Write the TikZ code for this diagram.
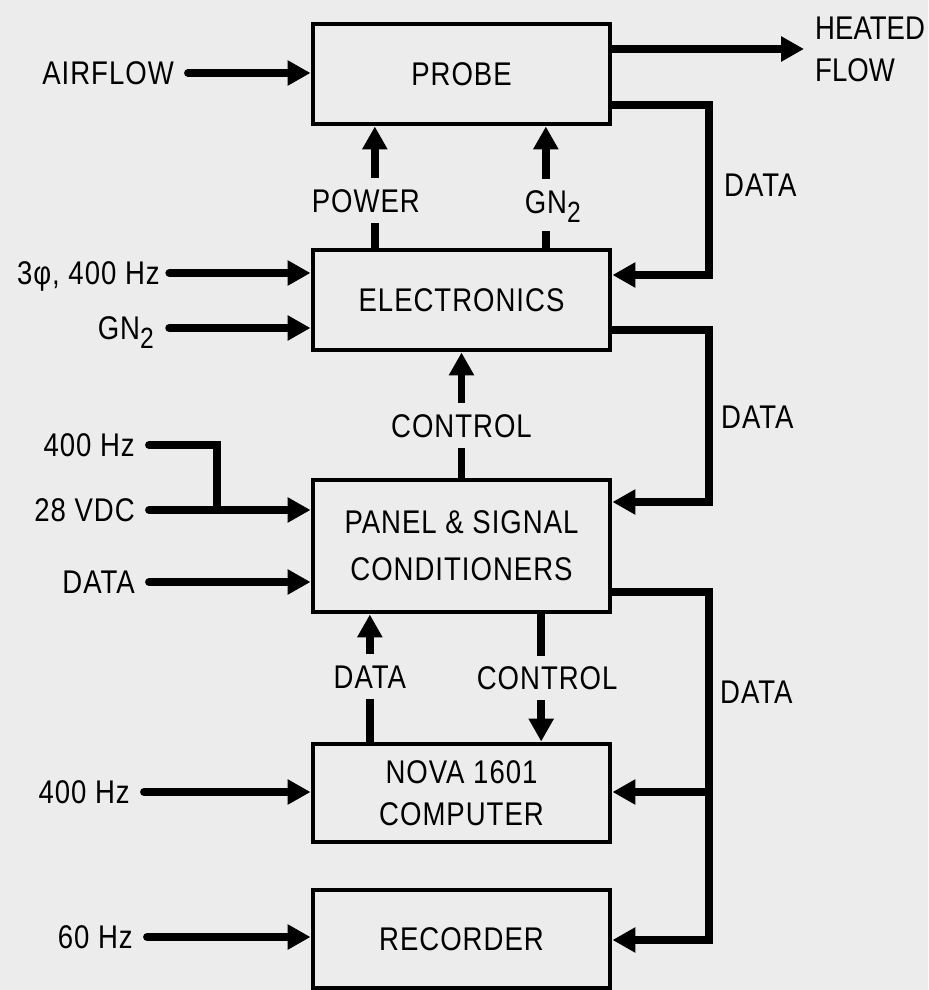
\documentclass[tikz,border=0pt]{standalone}
\usepackage{fontspec}
\setmainfont{Liberation Sans}[FakeStretch=0.84,LetterSpace=3]
\usetikzlibrary{arrows.meta,positioning,calc}
\definecolor{paper}{RGB}{236,236,236}
\newcommand{\subtwo}{\raisebox{-0.5ex}{\fontsize{25}{25}\selectfont 2}}

\begin{document}
\begin{tikzpicture}[x=0.03cm,y=-0.03cm,
  font=\fontsize{28}{36}\selectfont,
  box/.style={draw,line width=4.2pt,minimum width=8.91cm,inner sep=0pt,align=center},
  flow/.style={line width=6.8pt,line cap=round,-{Triangle[length=6.9mm,width=7.2mm]}},
  wire/.style={line width=6.8pt,line cap=round},
  lbl/.style={inner sep=0pt,text height=20pt,text depth=0pt},
  gap/.style={lbl,fill=paper,inner xsep=4pt,inner ysep=9pt}]
\fill[paper] (0,0) rectangle (928,990);
\useasboundingbox (0,0) rectangle (928,990);
% Blocks
\node[box,minimum height=3cm] (probe) at (461.5,74) {PROBE};
\node[box,minimum height=3cm] (elec) at (461.5,300) {ELECTRONICS};
\node[box,minimum height=3.96cm,font=\fontsize{28}{40}\selectfont] (panel) at (461.5,546) {PANEL \& SIGNAL\\CONDITIONERS};
\node[box,minimum height=2.94cm] (nova) at (461.5,793) {NOVA 1601\\COMPUTER};
\node[box,minimum height=2.94cm] (rec) at (461.5,939) {RECORDER};
% Inputs on the left
\node[lbl,anchor=east] (airflow) at (174,73) {AIRFLOW};
\node[lbl,anchor=east] (phase) at (160,273) {3φ, 400 Hz};
\node[lbl,anchor=east] (gnin) at (154,328) {GN\subtwo};
\node[lbl,anchor=east] (hzpanel) at (135,445) {400 Hz};
\node[lbl,anchor=east] (vdc) at (135,510) {28 VDC};
\node[lbl,anchor=east] (datain) at (135,582) {DATA};
\node[lbl,anchor=east] (hznova) at (130,792) {400 Hz};
\node[lbl,anchor=east] (hzrec) at (133,937) {60 Hz};
\draw[flow] ([xshift=12pt]airflow.east) -- (airflow.east -| probe.west);
\draw[flow] ([xshift=8pt]phase.east) -- (phase.east -| elec.west);
\draw[flow] ([xshift=13pt]gnin.east) -- (gnin.east -| elec.west);
\draw[flow] ([xshift=12pt]vdc.east) -- (vdc.east -| panel.west);
\draw[flow] ([xshift=12pt]datain.east) -- (datain.east -| panel.west);
\draw[flow] ([xshift=12pt]hznova.east) -- (hznova.east -| nova.west);
\draw[flow] ([xshift=12pt]hzrec.east) -- (hzrec.east -| rec.west);
\coordinate (join) at (217,510);
\draw[wire] ([xshift=12pt]hzpanel.east) -| (join);
% Heated flow out
\node[anchor=west,align=left,inner sep=0pt,font=\fontsize{28}{36}\selectfont\addfontfeature{LetterSpace=0}] (heated) at (815,49) {HEATED\\FLOW};
\draw[flow] (probe.east |- heated.west) -- ([xshift=-0.33cm]heated.west);
% Vertical links
\draw[flow] ([xshift=-2.6cm]elec.north) -- node[gap,pos=0.39,xshift=-0.27cm] (power) {POWER} ([xshift=-2.6cm]probe.south);
\draw[flow] ([xshift=2.53cm]elec.north) -- node[gap,pos=0.35,xshift=0.21cm,text depth=6pt] (gnup) {GN\subtwo} ([xshift=2.53cm]probe.south);
\draw[flow] (panel.north) -- node[gap,pos=0.415] (ctrlup) {CONTROL} (elec.south);
\draw[flow] ([xshift=-2.75cm]nova.north) -- node[gap,pos=0.51] (dataup) {DATA} ([xshift=-2.75cm]panel.south);
\draw[flow] ([xshift=2.39cm]panel.south) -- node[gap,pos=0.5,xshift=0.18cm] (ctrldown) {CONTROL} ([xshift=2.39cm]nova.north);
% Data loops on the right
\coordinate (da) at (709,105);
\coordinate (dae) at (709,275);
\draw[flow] (probe.east |- da) -- (da) -- (dae) -- (elec.east |- dae);
\node[lbl,anchor=west] (data1) at (724,185) {DATA};
\coordinate (db) at (709,330);
\coordinate (dbe) at (709,502);
\draw[flow] (elec.east |- db) -- (db) -- (dbe) -- (panel.east |- dbe);
\node[lbl,anchor=west] (data2) at (721,417) {DATA};
\coordinate (dc) at (709,592);
\coordinate (dcn) at (709,792);
\coordinate (dce) at (709,940);
\draw[flow] (panel.east |- dc) -- (dc) -- (dce) -- (rec.east |- dce);
\draw[flow] (dcn) -- (nova.east |- dcn);
\node[lbl,anchor=west] (data3) at (720,692) {DATA};
\end{tikzpicture}
\end{document}
